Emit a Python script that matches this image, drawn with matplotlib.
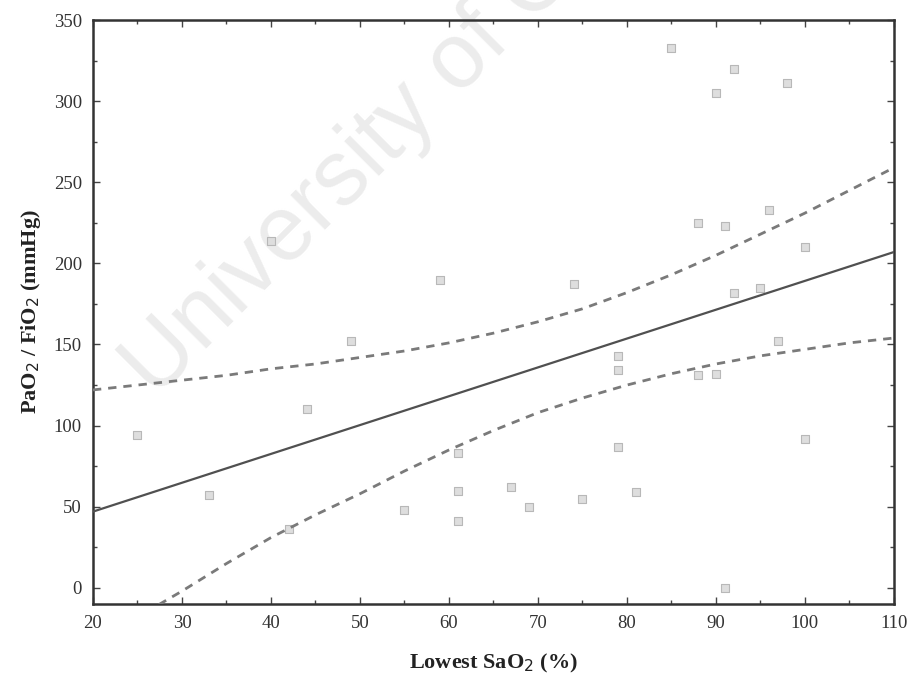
import matplotlib
matplotlib.use("Agg")
import matplotlib.pyplot as plt
from matplotlib.ticker import MultipleLocator

# scatter points (lowest SaO2 %, PaO2/FiO2 mmHg)
sao2 = [25, 33, 40, 42, 44, 49, 55, 59, 61, 61, 61, 67, 69, 74, 75, 79, 79, 79, 81,
        85, 88, 88, 90, 90, 91, 91, 92, 92, 95, 96, 97, 98, 100, 100]
pf_ratio = [94, 57, 214, 36, 110, 152, 48, 190, 83, 60, 41, 62, 50, 187, 55, 143, 134, 87, 59,
            333, 225, 131, 305, 132, 223, 0, 320, 182, 185, 233, 152, 311, 210, 92]

# regression line ends
fit_x = [20, 110]
fit_y = [47, 207]

# 95% confidence band, read every 5 units
band_x = [20, 25, 30, 35, 40, 45, 50, 55, 60, 65, 70, 75, 80, 85, 90, 95, 100, 105, 110]
band_upper = [122, 125, 128, 131, 135, 138, 142, 146, 151, 157, 164, 172, 182, 193, 205, 218, 231, 245, 259]
band_lower = [-34, -18, -2, 15, 31, 45, 58, 72, 85, 97, 108, 117, 125, 132, 138, 143, 147, 151, 154]

plt.rcParams['font.family'] = ['Liberation Serif', 'DejaVu Serif']

fig = plt.figure(figsize=(9.15, 6.78), dpi=100)
ax = fig.add_axes([0.1016, 0.109, 0.8754, 0.8615])
ax.patch.set_visible(False)

# faint watermark behind the plot
fig.text(0.170, 0.410, "University of Cape Town", rotation=45, rotation_mode='anchor',
         ha='left', va='baseline', fontsize=66, color='#ececec',
         family='Liberation Sans', zorder=-1)

ax.scatter(sao2, pf_ratio, marker='s', s=40, facecolor='#dedede', edgecolor='#b8b8b8',
           linewidth=0.8, zorder=2)
ax.plot(fit_x, fit_y, color='#505050', linewidth=1.6, zorder=3)
ax.plot(band_x, band_upper, color='#7a7a7a', linewidth=2.0, linestyle=(0, (3, 2.5)), zorder=3)
ax.plot(band_x, band_lower, color='#7a7a7a', linewidth=2.0, linestyle=(0, (3, 2.5)), zorder=3)

ax.set_xlim(20, 110)
ax.set_ylim(-10, 350)
ax.xaxis.set_major_locator(MultipleLocator(10))
ax.xaxis.set_minor_locator(MultipleLocator(5))
ax.yaxis.set_major_locator(MultipleLocator(50))
ax.yaxis.set_minor_locator(MultipleLocator(25))
ax.tick_params(which='both', direction='in', top=True, right=True, colors='#444444',
               labelcolor='#333333', labelsize=13.5, width=1.0)
ax.tick_params(which='major', length=5, pad=8)
ax.tick_params(which='minor', length=3)
for side in ax.spines.values():
    side.set_linewidth(1.8)
    side.set_color('#333333')

ax.set_xlabel("Lowest SaO$_2$ (%)", fontsize=16, fontweight='bold', color='#222222', labelpad=14)
ax.set_ylabel("PaO$_2$ / FiO$_2$ (mmHg)", fontsize=16, fontweight='bold', color='#222222', labelpad=8)

fig.savefig("out.png", dpi=100)
